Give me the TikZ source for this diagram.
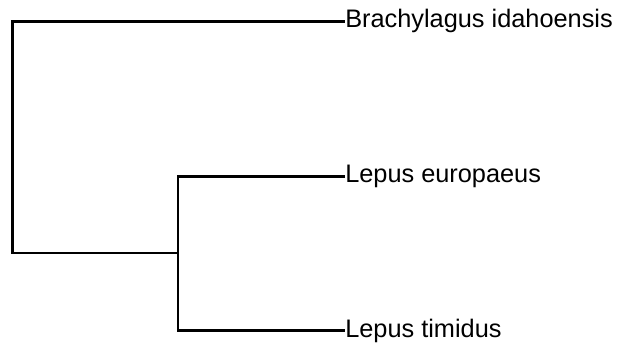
\documentclass[tikz,border=0pt]{standalone}
\usepackage{fontspec}
\setmainfont{Liberation Sans}
\begin{document}
\begin{tikzpicture}[x=0.75pt,y=-0.75pt,
  branch/.style={line width=1.7pt,black},
  leaf/.style={anchor=base west,inner sep=0pt,font=\fontsize{19pt}{23pt}\selectfont}]
\useasboundingbox (0,0) rectangle (628,345);
\coordinate (root) at (12.5,253);
\coordinate (inner) at (178,253);
\node[leaf] (bi) at (345,28) {Brachylagus idahoensis};
\node[leaf] (le) at (345,183) {Lepus europaeus};
\node[leaf] (lt) at (345,337) {Lepus timidus};
\coordinate (tbi) at (345,21.5);
\coordinate (tle) at (345,176.5);
\coordinate (tlt) at (345,330.5);
\draw[branch] (inner) -- (root) |- (tbi);
\draw[branch] (tle) -| (inner) |- (tlt);
\end{tikzpicture}
\end{document}
